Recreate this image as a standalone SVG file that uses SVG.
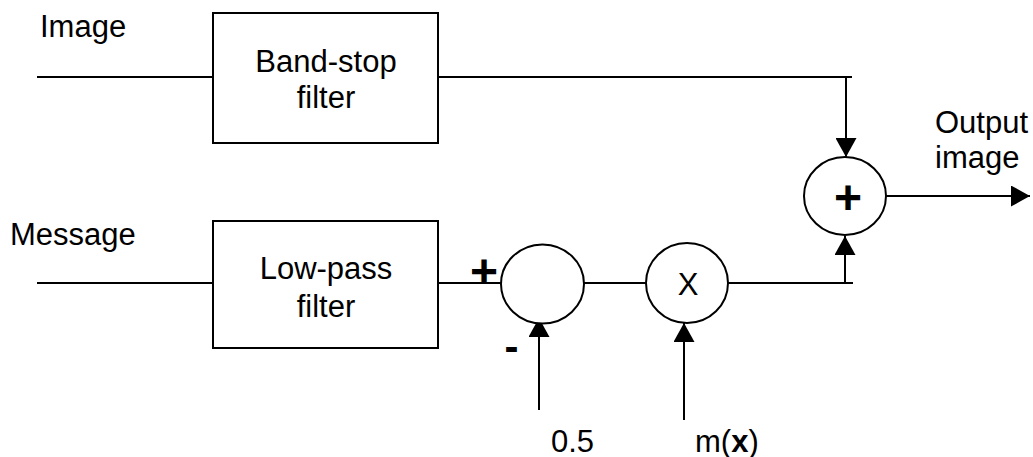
<svg xmlns="http://www.w3.org/2000/svg" width="1033" height="457" viewBox="0 0 1033 457">
<style>
  .t { font-family: "Liberation Sans", Arial, sans-serif; font-size: 31px; fill: #000; }
  .s { font-family: "Liberation Sans", Arial, sans-serif; font-size: 48px; font-weight: bold; fill: #000; }
  .m { font-family: "Liberation Sans", Arial, sans-serif; font-size: 42px; font-weight: bold; fill: #000; }
  .box { fill: #fff; stroke: #000; stroke-width: 2; }
  .ln { fill: none; stroke: #000; stroke-width: 2; }
</style>
<defs>
  <marker id="arr" markerUnits="userSpaceOnUse" markerWidth="20" markerHeight="21" refX="19" refY="10.5" orient="auto" viewBox="0 0 20 21">
    <path d="M0,0 L19,10.5 L0,21 z" fill="#000"/>
  </marker>
</defs>
<rect width="1033" height="457" fill="#fff"/>
<g id="connectors">
  <line class="ln" x1="37" y1="77" x2="213" y2="77"/>
  <line class="ln" x1="438" y1="77" x2="852" y2="77"/>
  <line class="ln" x1="846" y1="77" x2="846" y2="157" marker-end="url(#arr)"/>
  <line class="ln" x1="37" y1="283" x2="213" y2="283"/>
  <line class="ln" x1="438" y1="283" x2="501" y2="283"/>
  <line class="ln" x1="584" y1="283" x2="646" y2="283"/>
  <line class="ln" x1="728" y1="283" x2="853" y2="283"/>
  <line class="ln" x1="845" y1="283" x2="845" y2="236" marker-end="url(#arr)"/>
  <line class="ln" x1="539" y1="410" x2="539" y2="318" marker-end="url(#arr)"/>
  <line class="ln" x1="684" y1="420" x2="684" y2="323" marker-end="url(#arr)"/>
  <line class="ln" x1="886" y1="196" x2="1030" y2="196" marker-end="url(#arr)"/>
</g>
<g id="label-image"><text class="t" x="40" y="37">Image</text></g>
<g id="label-message"><text class="t" x="10" y="245">Message</text></g>
<g id="bandstop">
  <rect class="box" x="213" y="13" width="225" height="130"/>
  <text class="t" x="326" y="72" text-anchor="middle">Band-stop</text>
  <text class="t" x="326" y="108" text-anchor="middle">filter</text>
</g>
<g id="lowpass">
  <rect class="box" x="213" y="221" width="225" height="127"/>
  <text class="t" x="326" y="279" text-anchor="middle">Low-pass</text>
  <text class="t" x="326" y="317" text-anchor="middle">filter</text>
</g>
<g id="subtract">
  <ellipse class="box" cx="542.5" cy="284" rx="41.5" ry="39.5"/>
  <text class="s" x="484" y="288" text-anchor="middle">+</text>
  <text class="m" x="511.5" y="361" text-anchor="middle">-</text>
</g>
<g id="multiply">
  <ellipse class="box" cx="687" cy="283" rx="41" ry="40"/>
  <text class="t" x="688" y="295" text-anchor="middle" font-size="32">X</text>
</g>
<g id="adder">
  <ellipse class="box" cx="845" cy="196" rx="41" ry="39"/>
  <text class="s" x="848" y="214" text-anchor="middle">+</text>
</g>
<g id="label-output">
  <text class="t" x="935" y="133">Output</text>
  <text class="t" x="935" y="168">image</text>
</g>
<g id="label-half"><text class="t" x="551" y="452">0.5</text></g>
<g id="label-mx"><text class="t" x="695" y="452">m(<tspan font-weight="bold">x</tspan>)</text></g>
</svg>
